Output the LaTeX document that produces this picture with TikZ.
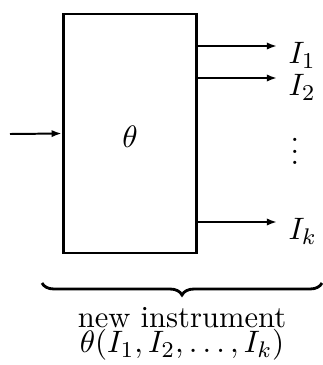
\documentclass[tikz,border=0pt]{standalone}
\usetikzlibrary{arrows.meta,decorations.pathreplacing}
\begin{document}
\begin{tikzpicture}[x=0.3534pt, y=-0.3534pt, font=\fontsize{10.8}{13}\selectfont,
    box/.style={draw, line width=1.05pt, minimum width=133.5*0.3534pt, minimum height=239*0.3534pt, inner sep=0pt},
    link/.style={line width=0.7pt, -{Latex[length=3.6pt, width=2.6pt]}},
    lbl/.style={anchor=north west, inner sep=0pt}]
    \useasboundingbox (0,0) rectangle (323,365);

    % Instrument block
    \node[box] (blk) at (130,133.5) {};
    \node (th) at (130,137) {$\theta$};
    \coordinate (src) at (10,134);
    \draw[link] (src) -- (blk.west);

    % Outputs
    \coordinate (o1) at (277,46);
    \coordinate (o2) at (277,78);
    \coordinate (ok) at (277,222);
    \node[lbl] (I1) at (288,42) {$I_1$};
    \node[lbl] (I2) at (288,74) {$I_2$};
    \node[lbl] (Ik) at (288,218) {$I_k$};
    \node (dots) at (295,143) {$\vdots$};
    \draw[link] (blk.east |- o1) -- (o1);
    \draw[link] (blk.east |- o2) -- (o2);
    \draw[link] (blk.east |- ok) -- (ok);

    % Brace and caption
    \coordinate (bl) at (42,283);
    \coordinate (br) at (322,283);
    \draw[line width=1pt, decorate, decoration={brace, amplitude=12*0.3534pt, mirror}] (bl) -- (br);
    \node[align=center, anchor=north, inner sep=0pt, font=\fontsize{10.8}{8.8}\selectfont] (cap) at (182,307)
        {new instrument\\ $\theta(I_1,I_2,\ldots,I_k)$};
\end{tikzpicture}
\end{document}
